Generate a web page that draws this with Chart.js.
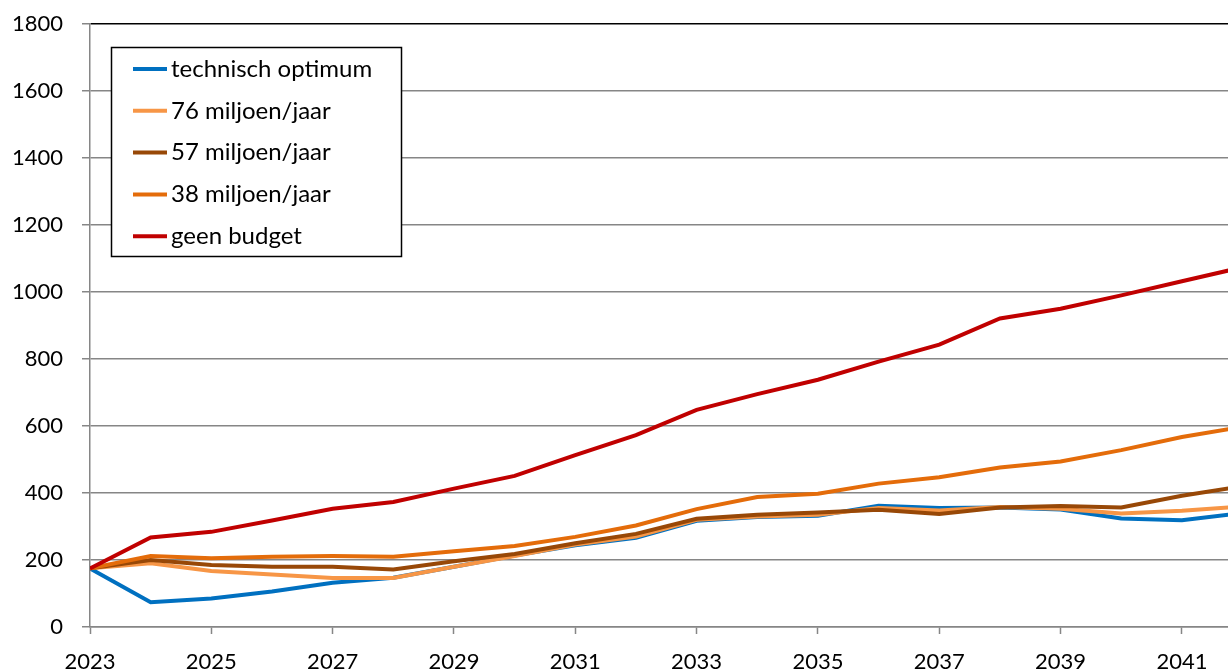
<!DOCTYPE html>
<html>
<head>
<meta charset="utf-8">
<script src="https://cdn.jsdelivr.net/npm/chart.js@4.4.1/dist/chart.umd.min.js"></script>
<style>
  html, body { margin: 0; padding: 0; background: #fff; overflow: hidden; }
  #wrap { width: 1228px; height: 671px; position: relative; }
</style>
</head>
<body>
<div id="wrap"><canvas id="myChart"></canvas></div>
<script>
/* Data */
const years = [2023, 2024, 2025, 2026, 2027, 2028, 2029, 2030, 2031, 2032, 2033, 2034, 2035, 2036, 2037, 2038, 2039, 2040, 2041, 2042];
const tickYears = [2023, 2025, 2027, 2029, 2031, 2033, 2035, 2037, 2039, 2041];

const seriesNames = ['technisch optimum', '76 miljoen/jaar', '57 miljoen/jaar', '38 miljoen/jaar', 'geen budget'];

const technischOptimum = [175, 74, 85, 106, 132, 147, 180, 213, 244, 266, 317, 328, 332, 362, 355, 357, 351, 324, 319, 340];
const budget76 = [175, 190, 167, 157, 146, 146, 180, 212, 246, 270, 320, 330, 335, 355, 348, 358, 353, 339, 347, 360];
const budget57 = [175, 200, 185, 180, 180, 172, 196, 218, 250, 278, 323, 335, 342, 350, 337, 357, 361, 357, 392, 420];
const budget38 = [175, 212, 205, 210, 212, 210, 226, 242, 269, 303, 352, 388, 398, 428, 447, 476, 494, 528, 567, 598];
const geenBudget = [175, 267, 284, 318, 353, 373, 413, 451, 513, 573, 648, 695, 738, 792, 843, 921, 950, 990, 1032, 1074];

const seriesValues = [technischOptimum, budget76, budget57, budget38, geenBudget];
const seriesColors = ['#0070C0', '#F79646', '#984807', '#E46C0A', '#C00000'];

const FONT = 'Lato';

/* Legenda met kader binnen het grafiekgebied */
const legendBox = {
    id: 'legendBox',
    afterDraw(chart) {
        const ctx = chart.ctx;
        const x0 = 111.5, y0 = 47.5, w = 290, h = 209;
        ctx.save();
        ctx.fillStyle = '#fff';
        ctx.fillRect(x0, y0, w, h);
        ctx.strokeStyle = '#000';
        ctx.lineWidth = 1.5;
        ctx.strokeRect(x0, y0, w, h);
        ctx.font = '24px ' + FONT;
        ctx.textBaseline = 'middle';
        ctx.fillStyle = '#000';
        chart.data.datasets.forEach((ds, i) => {
            const y = 69 + i * 41.8;
            ctx.strokeStyle = ds.borderColor;
            ctx.lineWidth = 4;
            ctx.beginPath();
            ctx.moveTo(133, y);
            ctx.lineTo(167, y);
            ctx.stroke();
            ctx.fillText(ds.label, 171, y);
        });
        ctx.restore();
    }
};

const datasets = seriesNames.map((name, i) => ({
    label: name,
    data: seriesValues[i],
    borderColor: seriesColors[i],
    backgroundColor: seriesColors[i],
    borderWidth: 4,
    pointRadius: 0,
    tension: 0,
    order: seriesNames.length - i
}));

const config = {
    type: 'line',
    data: { labels: years, datasets: datasets },
    options: {
        responsive: true,
        maintainAspectRatio: false,
        animation: false,
        layout: { padding: { top: 24, right: 0, left: 0, bottom: 0 } },
        plugins: {
            legend: { display: false },
            tooltip: { enabled: false }
        },
        scales: {
            x: {
                type: 'linear',
                min: 2023,
                max: 2041.76,
                afterBuildTicks: (scale) => {
                    scale.ticks = tickYears.map(v => ({ value: v }));
                },
                afterFit: (scale) => { scale.height = 44; },
                grid: {
                    drawOnChartArea: false,
                    drawTicks: true,
                    tickLength: 7,
                    tickColor: '#868686',
                    tickWidth: 1.5
                },
                border: { color: '#868686', width: 1.5 },
                ticks: {
                    color: '#000',
                    font: { family: FONT, size: 22 },
                    padding: 15,
                    maxRotation: 0,
                    autoSkip: false,
                    callback: (v) => String(v)
                }
            },
            y: {
                min: 0,
                max: 1800,
                afterFit: (scale) => {
                    scale.width = 90;
                    scale.paddingTop = 0;
                    scale.paddingBottom = 0;
                },
                grid: {
                    color: (c) => (c.tick && c.tick.value === 1800 ? '#000' : '#868686'),
                    lineWidth: 1.5,
                    tickLength: 8,
                    tickColor: '#868686'
                },
                border: { color: '#868686', width: 1.5 },
                ticks: {
                    stepSize: 200,
                    color: '#000',
                    font: { family: FONT, size: 22 },
                    padding: 19,
                    callback: (v) => String(v)
                }
            }
        }
    },
    plugins: [legendBox]
};

let myChart = new Chart(document.getElementById('myChart'), config);
</script>
</body>
</html>
